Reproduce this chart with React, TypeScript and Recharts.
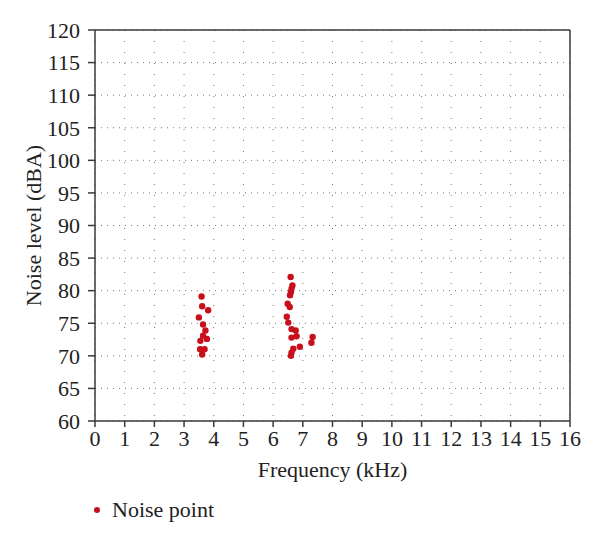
import React from 'react';
import { ScatterChart, Scatter, XAxis, YAxis, CartesianGrid, ReferenceLine } from 'recharts';

const frequencyKHz = [
  3.59, 3.61, 3.81, 3.50, 3.64, 3.72, 3.64, 3.77, 3.55, 3.54, 3.69, 3.61,
  6.59, 6.65, 6.62, 6.60, 6.57, 6.49, 6.56, 6.46, 6.51, 6.62, 6.76, 6.79, 6.62, 7.33, 7.29, 6.90, 6.68, 6.62, 6.60,
];
const noiseLevelDBA = [
  79.1, 77.6, 77.0, 75.9, 74.8, 73.9, 73.1, 72.6, 72.3, 71.0, 71.0, 70.2,
  82.1, 80.8, 80.3, 79.8, 79.3, 78.0, 77.5, 76.0, 75.1, 74.1, 73.9, 73.0, 72.8, 72.9, 72.0, 71.4, 71.1, 70.5, 70.0,
];
const xTicks = [0, 1, 2, 3, 4, 5, 6, 7, 8, 9, 10, 11, 12, 13, 14, 15, 16];
const yTicks = [60, 65, 70, 75, 80, 85, 90, 95, 100, 105, 110, 115, 120];
const seriesName = 'Noise point';

const data = frequencyKHz.map((f, i) => ({ f, n: noiseLevelDBA[i] }));

const FONT = '"Liberation Serif", "DejaVu Serif", serif';
const RED = '#c8101c';
const AXIS = '#3a3a3a';
const TEXT = '#222';

const Dot = (props: any) => <circle cx={props.cx} cy={props.cy} r={3.2} fill={RED} />;

export default function App() {
  const tickStyle = { fontFamily: FONT, fontSize: 22, fill: TEXT };
  return (
    <div style={{ position: 'absolute', left: 0, top: 0, width: 600, height: 543, background: '#fff' }}>
      <ScatterChart width={600} height={543} margin={{ top: 30, right: 30, bottom: 72, left: 10 }}>
        <CartesianGrid horizontal={true} vertical={false} stroke="#777" strokeDasharray="1 5" />
        <CartesianGrid horizontal={false} vertical={true} stroke="#777" strokeDasharray="1 10" />
        <XAxis
          type="number"
          dataKey="f"
          domain={[0, 16]}
          ticks={xTicks}
          interval={0}
          allowDataOverflow
          stroke={AXIS}
          strokeWidth={1.5}
          tickSize={6}
          tickMargin={3}
          tick={tickStyle}
          height={50}
          label={{ value: 'Frequency (kHz)', position: 'insideBottom', offset: -6, style: { fontFamily: FONT, fontSize: 22, fill: TEXT } }}
        />
        <YAxis
          type="number"
          dataKey="n"
          domain={[60, 120]}
          ticks={yTicks}
          interval={0}
          allowDataOverflow
          stroke={AXIS}
          strokeWidth={1.5}
          tickSize={7}
          tickMargin={8}
          tick={tickStyle}
          width={85}
          label={{ value: 'Noise level (dBA)', angle: -90, position: 'center', dx: -19, style: { fontFamily: FONT, fontSize: 22, fill: TEXT, textAnchor: 'middle' } }}
        />
        <ReferenceLine y={120} stroke={AXIS} strokeWidth={1.5} />
        <ReferenceLine x={16} stroke={AXIS} strokeWidth={1.5} />
        <Scatter name={seriesName} data={data} fill={RED} shape={<Dot />} isAnimationActive={false} />
      </ScatterChart>
      <div
        style={{
          position: 'absolute',
          left: 92,
          top: 496,
          display: 'flex',
          alignItems: 'center',
          fontFamily: FONT,
          fontSize: 22,
          color: TEXT,
          lineHeight: '28px',
        }}
      >
        <svg width={10} height={10} style={{ marginRight: 10 }}>
          <circle cx={5} cy={5} r={3} fill={RED} />
        </svg>
        <span>{seriesName}</span>
      </div>
    </div>
  );
}
